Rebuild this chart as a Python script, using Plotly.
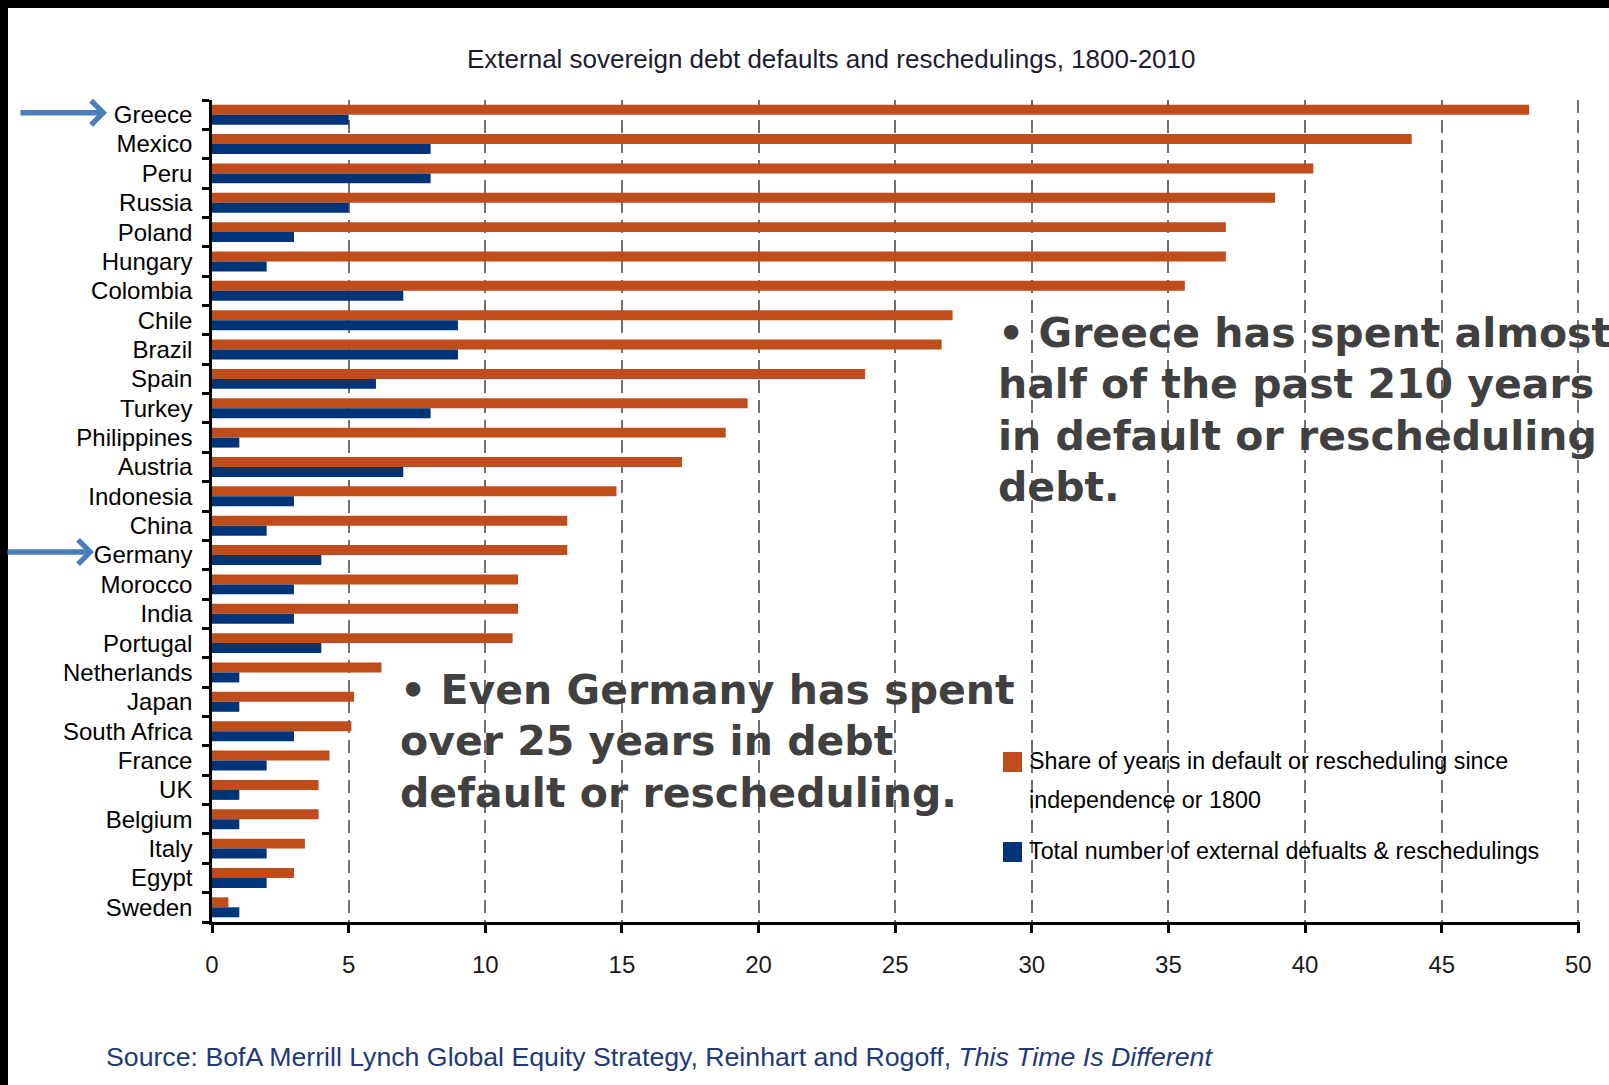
import plotly.graph_objects as go

# ---- data -------------------------------------------------------------
countries = [
    "Greece", "Mexico", "Peru", "Russia", "Poland", "Hungary", "Colombia",
    "Chile", "Brazil", "Spain", "Turkey", "Philippines", "Austria",
    "Indonesia", "China", "Germany", "Morocco", "India", "Portugal",
    "Netherlands", "Japan", "South Africa", "France", "UK", "Belgium",
    "Italy", "Egypt", "Sweden",
]
share_years = [
    48.2, 43.9, 40.3, 38.9, 37.1, 37.1, 35.6,
    27.1, 26.7, 23.9, 19.6, 18.8, 17.2,
    14.8, 13.0, 13.0, 11.2, 11.2, 11.0,
    6.2, 5.2, 5.1, 4.3, 3.9, 3.9,
    3.4, 3.0, 0.6,
]
total_defaults = [
    5, 8, 8, 5, 3, 2, 7,
    9, 9, 6, 8, 1, 7,
    3, 2, 4, 3, 3, 4,
    1, 1, 3, 2, 1, 1,
    2, 2, 1,
]
x_ticks = [0, 5, 10, 15, 20, 25, 30, 35, 40, 45, 50]

series_names = [
    "Share of years in default or rescheduling since independence or 1800",
    "Total number of external defualts & reschedulings",
]
legend_lines = [
    ["Share of years in default or rescheduling since", "independence or 1800"],
    ["Total number of external defualts & reschedulings"],
]
title_text = "External sovereign debt defaults and reschedulings, 1800-2010"
source_text = ("Source: BofA Merrill Lynch Global Equity Strategy, Reinhart and Rogoff, "
               "<i>This Time Is Different</i>")
greece_note = ["• Greece has spent almost", "half of the past 210 years",
               "in default or rescheduling", "debt."]
germany_note = ["• Even Germany has spent", "over 25 years in debt",
                "default or rescheduling."]
highlighted = ["Greece", "Germany"]

# ---- styling ----------------------------------------------------------
ORANGE = "#BE4D1B"
NAVY = "#003479"
ARROW_BLUE = "#4A7EBB"
NOTE_GREY = "#404040"
SANS = "Liberation Sans, Arial, sans-serif"
BOLD_SANS = "DejaVu Sans, Verdana, sans-serif"

FIG_W, FIG_H = 1609, 1085
L, R, T, B = 212, 29, 100, 163
PW, PH = FIG_W - L - R, FIG_H - T - B
X_MAX = 50.06   # a hair past the last tick so its grid line is kept


def px(xp):
    """pixel column -> paper x"""
    return (xp - L) / PW


def py(yp):
    """pixel row -> paper y"""
    return 1 - (yp - T) / PH


fig = go.Figure()
fig.add_trace(go.Bar(
    y=countries, x=share_years, orientation="h", name=series_names[0],
    marker=dict(color=ORANGE, line=dict(width=0)),
))
fig.add_trace(go.Bar(
    y=countries, x=total_defaults, orientation="h", name=series_names[1],
    marker=dict(color=NAVY, line=dict(width=0)),
))

annotations = []

# chart title
annotations.append(dict(
    text=title_text, x=px(831), y=py(59), xref="paper", yref="paper",
    xanchor="center", yanchor="middle", showarrow=False,
    font=dict(family=SANS, size=26, color="#1C1C30"),
))

# source line
annotations.append(dict(
    text=source_text, x=px(104), y=py(1057), xref="paper", yref="paper",
    xanchor="left", yanchor="middle", showarrow=False,
    font=dict(family=SANS, size=26.7, color="#1E3A78"),
))

# commentary blocks
for lines, x0, y0 in ((greece_note, 996, 333), (germany_note, 398, 690)):
    for i, line in enumerate(lines):
        annotations.append(dict(
            text=line, x=px(x0), y=py(y0 + i * 51.3), xref="paper", yref="paper",
            xanchor="left", yanchor="middle", showarrow=False,
            font=dict(family=BOLD_SANS, size=41, color=NOTE_GREY, weight="bold"),
        ))

# legend
legend_colors = [ORANGE, NAVY]
legend_rows = [761, 851]
shapes = []
for lines, color, yc in zip(legend_lines, legend_colors, legend_rows):
    shapes.append(dict(
        type="rect", xref="paper", yref="paper",
        x0=px(1003), x1=px(1022), y0=py(yc - 9), y1=py(yc + 11),
        fillcolor=color, line=dict(width=0), layer="above",
    ))
    for i, line in enumerate(lines):
        annotations.append(dict(
            text=line, x=px(1027), y=py(yc + i * 39), xref="paper", yref="paper",
            xanchor="left", yanchor="middle", showarrow=False,
            font=dict(family=SANS, size=23.3, color="#000000"),
        ))

# arrows pointing at highlighted countries
for name, tip_x, shift in zip(highlighted, (107, 94), (2, 3)):
    annotations.append(dict(
        text="", x=px(tip_x), y=name, xref="paper", yref="y", yshift=shift,
        showarrow=True, ax=-88, ay=0, axref="pixel", ayref="pixel",
        arrowhead=4, arrowsize=0.85, arrowwidth=5.5, arrowcolor=ARROW_BLUE,
        standoff=0,
    ))

# black frame along the top and left edges
shapes.append(dict(type="rect", xref="paper", yref="paper",
                   x0=px(0), x1=px(FIG_W), y0=py(8), y1=py(0),
                   fillcolor="#000000", line=dict(width=0), layer="above"))
shapes.append(dict(type="rect", xref="paper", yref="paper",
                   x0=px(0), x1=px(8), y0=py(FIG_H), y1=py(0),
                   fillcolor="#000000", line=dict(width=0), layer="above"))

fig.update_layout(
    width=FIG_W, height=FIG_H,
    margin=dict(l=L, r=R, t=T, b=B, pad=0),
    paper_bgcolor="#FFFFFF", plot_bgcolor="#FFFFFF",
    barmode="group", bargap=0.32, bargroupgap=0,
    showlegend=False,
    annotations=annotations, shapes=shapes,
    xaxis=dict(
        range=[0, X_MAX], tickmode="array", tickvals=x_ticks,
        ticktext=[str(v) for v in x_ticks],
        showgrid=True, gridcolor="#707070", gridwidth=2.3, griddash="13px,7px",
        zeroline=False, showline=True, linecolor="#000000", linewidth=3,
        ticks="outside", ticklen=8, tickwidth=2.5, tickcolor="#000000",
        ticklabelstandoff=11,
        tickfont=dict(family=SANS, size=24, color="#1A1A1A"),
    ),
    yaxis=dict(
        type="category", categoryorder="array", categoryarray=countries,
        tickmode="array", tickvals=countries, ticktext=countries,
        range=[len(countries) - 0.5, -0.5],
        showgrid=False, zeroline=False,
        showline=True, linecolor="#000000", linewidth=2.5,
        ticks="outside", tickson="boundaries", ticklen=7, tickwidth=3,
        tickcolor="#000000", ticklabelstandoff=12,
        tickfont=dict(family=SANS, size=24, color="#000000"),
    ),
)

fig.write_html("out.html")
